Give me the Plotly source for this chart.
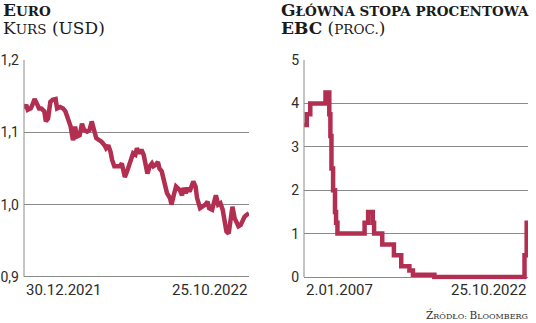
import plotly.graph_objects as go

# ---------------- data ----------------
eur_dates = [
    "2021-12-30", "2022-01-02", "2022-01-04", "2022-01-08", "2022-01-11", "2022-01-13",
    "2022-01-16", "2022-01-19", "2022-01-22", "2022-01-26", "2022-01-28", "2022-01-31",
    "2022-02-03", "2022-02-06", "2022-02-10", "2022-02-12", "2022-02-16", "2022-02-20",
    "2022-02-23", "2022-02-27", "2022-03-02", "2022-03-05", "2022-03-08", "2022-03-10",
    "2022-03-14", "2022-03-17", "2022-03-20", "2022-03-24", "2022-03-27", "2022-03-30",
    "2022-04-02", "2022-04-05", "2022-04-09", "2022-04-12", "2022-04-16", "2022-04-18",
    "2022-04-21", "2022-04-24", "2022-04-26", "2022-04-29", "2022-05-03", "2022-05-06",
    "2022-05-09", "2022-05-11", "2022-05-13", "2022-05-16", "2022-05-19", "2022-05-21",
    "2022-05-24", "2022-05-27", "2022-05-29", "2022-06-01", "2022-06-04", "2022-06-07",
    "2022-06-10", "2022-06-12", "2022-06-15", "2022-06-18", "2022-06-20", "2022-06-23",
    "2022-06-26", "2022-06-28", "2022-07-01", "2022-07-04", "2022-07-06", "2022-07-08",
    "2022-07-12", "2022-07-14", "2022-07-17", "2022-07-20", "2022-07-22", "2022-07-25",
    "2022-07-28", "2022-07-30", "2022-08-02", "2022-08-05", "2022-08-07", "2022-08-10",
    "2022-08-12", "2022-08-15", "2022-08-17", "2022-08-21", "2022-08-24", "2022-08-28",
    "2022-08-31", "2022-09-02", "2022-09-06", "2022-09-08", "2022-09-11", "2022-09-14",
    "2022-09-17", "2022-09-20", "2022-09-23", "2022-09-25", "2022-09-28", "2022-10-01",
    "2022-10-03", "2022-10-06", "2022-10-09", "2022-10-11", "2022-10-14", "2022-10-17",
    "2022-10-19", "2022-10-22", "2022-10-25",
]
eur_usd = [
    1.133, 1.138, 1.131, 1.133, 1.140, 1.146,
    1.140, 1.133, 1.133, 1.129, 1.115, 1.119,
    1.142, 1.145, 1.146, 1.133, 1.135, 1.133,
    1.129, 1.117, 1.108, 1.089, 1.108, 1.094,
    1.096, 1.112, 1.103, 1.101, 1.103, 1.115,
    1.103, 1.092, 1.089, 1.087, 1.082, 1.078,
    1.082, 1.073, 1.062, 1.053, 1.053, 1.053,
    1.057, 1.050, 1.038, 1.046, 1.055, 1.062,
    1.071, 1.069, 1.078, 1.071, 1.076, 1.069,
    1.055, 1.043, 1.053, 1.057, 1.053, 1.055,
    1.059, 1.050, 1.046, 1.034, 1.020, 1.016,
    1.009, 1.000, 1.013, 1.025, 1.023, 1.020,
    1.013, 1.023, 1.016, 1.023, 1.018, 1.025,
    1.032, 1.025, 1.009, 0.995, 0.997, 1.000,
    1.004, 0.995, 0.993, 1.004, 1.013, 1.000,
    1.002, 0.993, 0.979, 0.963, 0.960, 0.979,
    0.997, 0.981, 0.972, 0.970, 0.972, 0.981,
    0.983, 0.986, 0.988,
]
eur_yticks = [0.9, 1.0, 1.1, 1.2]
eur_yticktext = ["0,9", "1,0", "1,1", "1,2"]
eur_xlabels = ["30.12.2021", "25.10.2022"]
eur_xrange = ["2021-12-30", "2022-10-25"]

ecb_dates = [
    "2007-01-02", "2007-03-14", "2007-06-13", "2008-07-09", "2008-10-15", "2008-11-12",
    "2008-12-10", "2009-01-21", "2009-03-11", "2009-04-08", "2009-05-13", "2011-04-13",
    "2011-07-13", "2011-11-09", "2011-12-14", "2012-07-11", "2013-05-08", "2013-11-13",
    "2014-06-11", "2014-09-10", "2016-03-16", "2022-07-27", "2022-09-21", "2022-10-25",
]
ecb_rate = [
    3.50, 3.75, 4.00, 4.25, 3.75, 3.25,
    2.50, 2.00, 1.50, 1.25, 1.00, 1.25,
    1.50, 1.25, 1.00, 0.75, 0.50, 0.25,
    0.15, 0.05, 0.00, 0.50, 1.25, 1.25,
]
ecb_yticks = [0, 1, 2, 3, 4, 5]
ecb_yticktext = ["0", "1", "2", "3", "4", "5"]
ecb_xlabels = ["2.01.2007", "25.10.2022"]
ecb_xrange = ["2007-01-02", "2022-10-25"]

# ---------------- style ----------------
W, H = 536, 323
LINE = "#b22f52"
GRID = "#8a8a8a"
TXT = "#2b2b2b"
TICKFONT = dict(family="Roboto, sans-serif", size=14, color=TXT)
SERIF = "DejaVu Serif"

def px(x):
    return x / W

def py(y):
    return 1 - y / H

fig = go.Figure()
fig.add_trace(go.Scatter(x=eur_dates, y=eur_usd, mode="lines",
                         line=dict(color=LINE, width=4.5), xaxis="x", yaxis="y",
                         hoverinfo="skip"))
fig.add_trace(go.Scatter(x=ecb_dates, y=ecb_rate, mode="lines", line_shape="hv",
                         line=dict(color=LINE, width=4.5), xaxis="x2", yaxis="y2",
                         hoverinfo="skip"))

common_y = dict(showgrid=True, gridcolor=GRID, gridwidth=1, zeroline=False,
                showline=False, ticks="", tickfont=TICKFONT, ticklabelstandoff=4,
                automargin=False)
common_x = dict(showgrid=False, showticklabels=False, zeroline=False, showline=False,
                ticks="", automargin=False)
fig.update_layout(
    width=W, height=H, margin=dict(l=0, r=0, t=0, b=0, autoexpand=False),
    paper_bgcolor="white", plot_bgcolor="white", showlegend=False,
    xaxis=dict(domain=[px(24), px(249)], range=eur_xrange, **common_x),
    yaxis=dict(domain=[py(278), py(60)], range=[0.8985, 1.2], tickvals=eur_yticks,
               ticktext=eur_yticktext, **common_y),
    xaxis2=dict(domain=[px(304), px(528)], range=ecb_xrange, anchor="y2", **common_x),
    yaxis2=dict(domain=[py(279.6), py(60)], range=[-0.06, 5.0], tickvals=ecb_yticks,
                ticktext=ecb_yticktext, anchor="x2", **common_y),
)

# vertical axis lines
fig.add_shape(type="line", xref="x domain", yref="y", x0=0, x1=0, y0=0.9, y1=1.2,
              line=dict(color=GRID, width=1))
fig.add_shape(type="line", xref="x2 domain", yref="y2", x0=0, x1=0, y0=0, y1=5,
              line=dict(color=GRID, width=1))

# x end labels
xlab_font = dict(family=TICKFONT["family"], size=15, color=TXT)
fig.add_annotation(text=eur_xlabels[0], xref="x", yref="paper", x=eur_xrange[0], y=py(290),
                   xanchor="left", yanchor="middle", showarrow=False, font=xlab_font)
fig.add_annotation(text=eur_xlabels[1], xref="x", yref="paper", x=eur_xrange[1], y=py(290),
                   xanchor="right", yanchor="middle", showarrow=False, font=xlab_font)
fig.add_annotation(text=ecb_xlabels[0], xref="x2", yref="paper", x=ecb_xrange[0], y=py(290),
                   xanchor="left", yanchor="middle", showarrow=False, font=xlab_font)
fig.add_annotation(text=ecb_xlabels[1], xref="x2", yref="paper", x=ecb_xrange[1], y=py(290),
                   xanchor="right", yanchor="middle", showarrow=False, font=xlab_font)

def sc(big, small, bs, ss):
    return f'<span style="font-size:{bs}px">{big}</span><span style="font-size:{ss}px">{small}</span>'

B, S = 17, 13.5
t1 = "<b>" + sc("E", "URO", B, S) + "</b>"
t2 = sc("K", "URS", B, S) + f'<span style="font-size:{B}px"> (USD)</span>'
t3 = "<b>" + sc("G", "ŁÓWNA STOPA PROCENTOWA", B, S) + "</b>"
t4 = f'<b><span style="font-size:{B}px">EBC</span></b><span style="font-size:{B}px"> (</span>' \
     f'<span style="font-size:{S}px">PROC.</span><span style="font-size:{B}px">)</span>'
src = sc("Ź", "RÓDŁO: ", 10.5, 8) + sc("B", "LOOMBERG", 10.5, 8)

tfont = dict(family=SERIF, size=B, color="#1a1a1a")
fig.add_annotation(text=t1, xref="paper", yref="paper", x=px(1), y=py(10),
                   xanchor="left", yanchor="middle", showarrow=False, font=tfont)
fig.add_annotation(text=t2, xref="paper", yref="paper", x=px(1), y=py(28),
                   xanchor="left", yanchor="middle", showarrow=False, font=tfont)
fig.add_annotation(text=t3, xref="paper", yref="paper", x=px(279), y=py(10),
                   xanchor="left", yanchor="middle", showarrow=False, font=tfont)
fig.add_annotation(text=t4, xref="paper", yref="paper", x=px(279), y=py(28),
                   xanchor="left", yanchor="middle", showarrow=False, font=tfont)
fig.add_annotation(text=src, xref="paper", yref="paper", x=px(530), y=py(314),
                   xanchor="right", yanchor="middle", showarrow=False,
                   font=dict(family=SERIF, size=10.5, color="#333333"))

fig.write_html("out.html", config={"displayModeBar": False})
